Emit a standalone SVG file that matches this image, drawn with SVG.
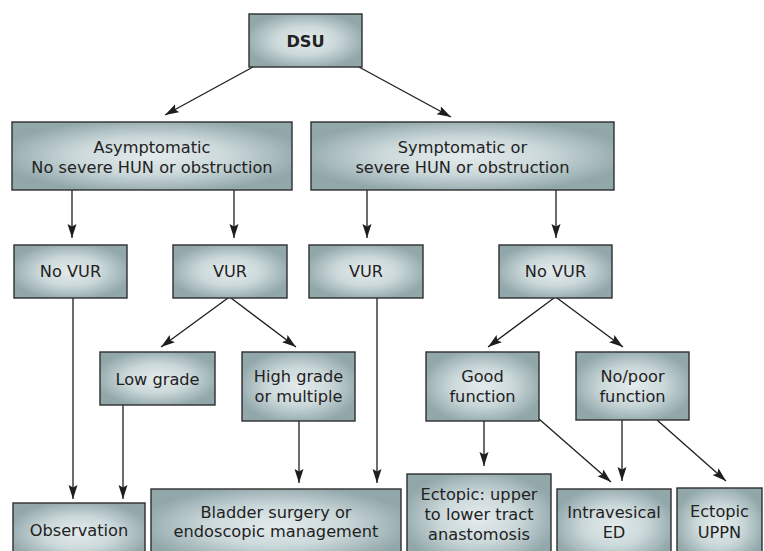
<svg xmlns="http://www.w3.org/2000/svg" width="764" height="551" viewBox="0 0 764 551">
<style>
.box{fill:url(#g);stroke:#2e2e2e;stroke-width:1.4}
.t{font-family:"DejaVu Sans","Liberation Sans",sans-serif;font-size:16.2px;fill:#222;text-anchor:middle}
.b{font-weight:bold}
.c{fill:none;stroke:#1e1e1e;stroke-width:1.3;marker-end:url(#a)}
</style>
<defs>
<radialGradient id="g" cx="50%" cy="50%" r="55%">
<stop offset="0" stop-color="#e4ebec"/>
<stop offset="0.5" stop-color="#cbd8da"/>
<stop offset="1" stop-color="#91a7aa"/>
</radialGradient>
<marker id="a" markerUnits="userSpaceOnUse" markerWidth="15" markerHeight="10" refX="14" refY="4.5" orient="auto">
<path d="M0,0 L14,4.5 L0,9 L2.5,4.5 z" fill="#1e1e1e"/>
</marker>
</defs>
<rect width="764" height="551" fill="#fff"/>
<g id="connectors">
<path class="c" d="M253,67 L165,115"/>
<path class="c" d="M359,67 L451,117"/>
<path class="c" d="M72,190 L72,238"/>
<path class="c" d="M234,190 L234,238"/>
<path class="c" d="M367,190 L367,238"/>
<path class="c" d="M556,190 L556,238"/>
<path class="c" d="M228,298 L161,347"/>
<path class="c" d="M231,298 L296,347"/>
<path class="c" d="M554,298 L488,347"/>
<path class="c" d="M557,298 L623,347"/>
<path class="c" d="M73,298 L73,499"/>
<path class="c" d="M123,405 L123,499"/>
<path class="c" d="M299,421 L299,483"/>
<path class="c" d="M377,298 L377,483"/>
<path class="c" d="M484,421 L484,466"/>
<path class="c" d="M539,419 L611,482"/>
<path class="c" d="M622,420 L622,481"/>
<path class="c" d="M657,420 L726,481"/>
</g>
<g id="dsu"><rect class="box" x="249" y="14" width="113" height="53"/><text class="t b" x="305.5" y="47">DSU</text></g>
<g id="asymptomatic"><rect class="box" x="12" y="122" width="280" height="68"/><text class="t" x="152" y="153">Asymptomatic</text><text class="t" x="152" y="173">No severe HUN or obstruction</text></g>
<g id="symptomatic"><rect class="box" x="311" y="122" width="303" height="68"/><text class="t" x="462.5" y="153">Symptomatic or</text><text class="t" x="462.5" y="173">severe HUN or obstruction</text></g>
<g id="novur1"><rect class="box" x="14" y="245" width="113" height="53"/><text class="t" x="70.5" y="277">No VUR</text></g>
<g id="vur1"><rect class="box" x="173" y="245" width="114" height="53"/><text class="t" x="230" y="277">VUR</text></g>
<g id="vur2"><rect class="box" x="309" y="245" width="114" height="53"/><text class="t" x="366" y="277">VUR</text></g>
<g id="novur2"><rect class="box" x="499" y="245" width="113" height="53"/><text class="t" x="555.5" y="277">No VUR</text></g>
<g id="lowgrade"><rect class="box" x="100" y="352" width="115" height="53"/><text class="t" x="157.5" y="385">Low grade</text></g>
<g id="highgrade"><rect class="box" x="242" y="352" width="113" height="69"/><text class="t" x="298.5" y="382">High grade</text><text class="t" x="298.5" y="402">or multiple</text></g>
<g id="goodfunction"><rect class="box" x="426" y="352" width="113" height="69"/><text class="t" x="482.5" y="382">Good</text><text class="t" x="482.5" y="402">function</text></g>
<g id="poorfunction"><rect class="box" x="576" y="352" width="113" height="68"/><text class="t" x="632.5" y="382">No/poor</text><text class="t" x="632.5" y="402">function</text></g>
<g id="observation"><rect class="box" x="13" y="503" width="132" height="60"/><text class="t" x="79" y="536">Observation</text></g>
<g id="bladder"><rect class="box" x="151" y="489" width="250" height="74"/><text class="t" x="276" y="518">Bladder surgery or</text><text class="t" x="276" y="537">endoscopic management</text></g>
<g id="ectopic-anastomosis"><rect class="box" x="407" y="474" width="144" height="89"/><text class="t" x="479" y="500">Ectopic: upper</text><text class="t" x="479" y="520">to lower tract</text><text class="t" x="479" y="540">anastomosis</text></g>
<g id="intravesical"><rect class="box" x="557" y="489" width="114" height="74"/><text class="t" x="614" y="518">Intravesical</text><text class="t" x="614" y="538">ED</text></g>
<g id="uppn"><rect class="box" x="677" y="488" width="85" height="75"/><text class="t" x="719.5" y="517">Ectopic</text><text class="t" x="719.5" y="538">UPPN</text></g>
</svg>
